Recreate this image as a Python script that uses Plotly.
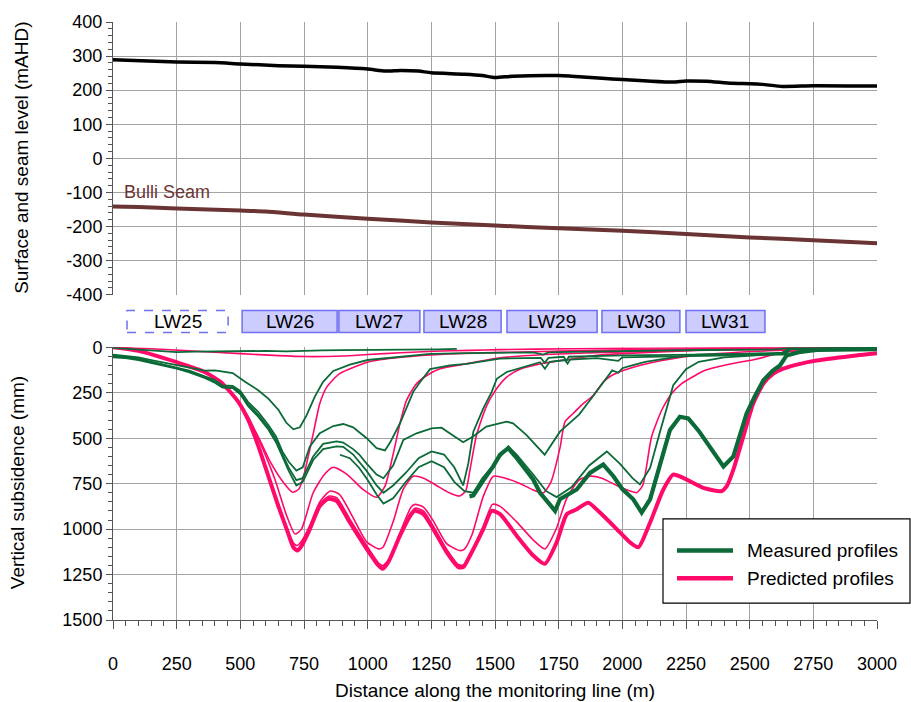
import plotly.graph_objects as go

# ---------------- DATA ----------------
# Top panel: surface and Bulli seam levels (mAHD)
surf_x = [0, 250, 400, 500, 650, 750, 880, 1000, 1070, 1130, 1200, 1250, 1380, 1450, 1500, 1570,
          1750, 1800, 1920, 2000, 2100, 2200, 2250, 2330, 2430, 2500, 2550, 2630, 2750, 3000]
surf_y = [289, 283, 281, 277, 272, 270, 267, 262, 256, 258, 256, 251, 247, 243, 237, 241,
          243, 241, 235, 231, 227, 224, 227, 226, 220, 219, 217, 211, 213, 212]
seam_x = [0, 100, 250, 500, 600, 750, 1000, 1250, 1500, 1750, 2000, 2250, 2500, 2750, 3000]
seam_y = [-141, -143, -147, -153, -156, -165, -177, -188, -197, -205, -212, -222, -232, -240, -249]

# Longwall panels
lw_names = ["LW25", "LW26", "LW27", "LW28", "LW29", "LW30", "LW31"]
lw_start = [55, 507, 887, 1221, 1547, 1920, 2250]
lw_end = [452, 880, 1205, 1524, 1901, 2226, 2560]

# Legend entries
legend_names = ["Measured profiles", "Predicted profiles"]

# Predicted subsidence profiles (mm)
p25_x = [0, 150, 300, 500, 650, 760, 900, 1000, 1130, 1260, 1400, 1520, 1800, 2200, 3000]
p25_y = [0, 8, 20, 35, 46, 51, 48, 40, 30, 22, 17, 13, 8, 4, 0]

p26_x = [0, 100, 250, 360, 430, 490, 520, 570, 620, 670, 705, 730, 750, 770, 790, 812, 840, 890,
         1000, 1130, 1320, 1560, 1800, 2100, 2500, 3000]
p26_y = [0, 20, 82, 136, 205, 300, 364, 491, 636, 745, 797, 780, 700, 580, 450, 309, 218, 145,
         82, 55, 36, 27, 20, 12, 6, 2]

p27_x = [0, 100, 250, 360, 430, 492, 531, 584, 636, 682, 715, 740, 786, 830, 865, 920, 980, 1035,
         1068, 1101, 1127, 1153, 1192, 1232, 1284, 1388, 1520, 1700, 2000, 2500, 3000]
p27_y = [0, 20, 82, 136, 200, 300, 382, 545, 727, 927, 1027, 1000, 800, 700, 660, 700, 780, 825,
         764, 582, 418, 291, 200, 155, 118, 91, 58, 40, 25, 10, 3]

p28_x = [0, 100, 250, 360, 430, 492, 531, 571, 610, 649, 682, 708, 722, 741, 773, 812, 853, 890,
         940, 996, 1043, 1060, 1100, 1140, 1179, 1220, 1270, 1320, 1362, 1385, 1402, 1428, 1467,
         1500, 1546, 1600, 1690, 1800, 1893, 2000, 2286, 2600, 3000]
p28_y = [0, 20, 82, 136, 200, 300, 395, 540, 700, 860, 990, 1075, 1090, 1065, 980, 850, 791, 810,
         930, 1070, 1109, 1100, 960, 780, 709, 720, 760, 800, 818, 790, 673, 480, 322,
         240, 164, 120, 88, 65, 45, 35, 18, 10, 3]

p29_x = [0, 100, 250, 360, 430, 492, 531, 571, 610, 649, 682, 708, 722, 741, 773, 812, 850, 880,
         930, 996, 1045, 1060, 1085, 1127, 1170, 1186, 1220, 1260, 1310, 1362, 1380, 1410, 1454,
         1494, 1540, 1600, 1650, 1690, 1720, 1755, 1775, 1807, 1840, 1886, 1925, 1958, 2024,
         2155, 2286, 2600, 3000]
p29_y = [0, 20, 82, 136, 200, 300, 398, 543, 705, 868, 995, 1095, 1112, 1085, 995, 862, 818, 830,
         945, 1090, 1190, 1200, 1165, 1020, 880, 864, 880, 960, 1080, 1118, 1110, 1030, 820,
         709, 720, 750, 785, 800, 740, 555, 409, 364, 318, 264, 191, 155, 118,
         73, 45, 18, 4]

p30_x = [0, 100, 250, 360, 430, 492, 531, 571, 610, 649, 682, 708, 725, 741, 773, 812, 845, 878,
         930, 996, 1042, 1059, 1081, 1127, 1167, 1186, 1219, 1258, 1310, 1356, 1376, 1402, 1454,
         1490, 1520, 1585, 1650, 1696, 1740, 1782, 1830, 1873, 1920, 1978, 2030, 2056, 2080,
         2115, 2155, 2194, 2233, 2286, 2325, 2397, 2528, 2634, 2800, 3000]
p30_y = [0, 20, 82, 136, 200, 300, 400, 545, 709, 873, 1000, 1100, 1116, 1089, 998, 871, 830, 842,
         960, 1105, 1196, 1212, 1176, 1030, 915, 885, 900, 985, 1110, 1195, 1198, 1140, 985,
         864, 875, 960, 1060, 1109, 1000, 830, 730, 709, 720, 760, 790, 800, 760,
         491, 345, 254, 200, 155, 127, 100, 64, 27, 12, 3]

p31_x = [0, 100, 250, 360, 430, 492, 531, 571, 610, 649, 682, 708, 725, 741, 773, 812, 845, 878,
         930, 996, 1042, 1059, 1081, 1127, 1167, 1186, 1219, 1258, 1310, 1356, 1376, 1402, 1454,
         1487, 1520, 1585, 1650, 1696, 1742, 1782, 1821, 1866, 1912, 1978, 2030, 2063, 2109,
         2161, 2200, 2239, 2318, 2390, 2410, 2436, 2475, 2514, 2554, 2593, 2632, 2698, 2763,
         2894, 3000]
p31_y = [0, 20, 82, 136, 200, 300, 400, 545, 709, 873, 1000, 1100, 1118, 1091, 1000, 873, 833, 845,
         964, 1109, 1200, 1218, 1182, 1036, 927, 900, 918, 1000, 1127, 1209, 1209, 1145, 1000,
         900, 918, 1036, 1145, 1191, 1073, 918, 891, 855, 909, 1000, 1073, 1100, 964,
         782, 700, 718, 773, 791, 764, 673, 491, 309, 200, 145, 118, 91, 73,
         49, 33]

# Measured subsidence profiles (mm)
m25_x = [0, 60, 120, 180, 250, 320, 400, 470, 540, 600, 680, 750, 820, 900, 980, 1050, 1130,
         1200, 1280, 1350]
m25_y = [3, 8, 14, 20, 27, 24, 22, 20, 18, 20, 22, 18, 17, 16, 15, 13, 16, 13, 11, 9]

m26_x = [0, 50, 100, 150, 200, 250, 300, 360, 400, 440, 470, 520, 570, 610, 650, 680, 708, 734,
         760, 793, 825, 865, 930, 1000, 1130, 1245, 1400, 1500, 1650, 1690, 1710, 1800, 2000,
         2300, 2600, 2650, 3000]
m26_y = [40, 46, 56, 70, 84, 100, 115, 128, 127, 135, 142, 191, 236, 282, 345, 414, 451, 440,
         375, 270, 190, 130, 95, 70, 50, 36, 32, 30, 28, 40, 28, 25, 20,
         15, 12, 5, 3]

m27_x = [0, 50, 100, 150, 200, 250, 300, 360, 400, 430, 470, 500, 530, 570, 610, 640, 665, 690,
         720, 745, 773, 812, 865, 904, 943, 996, 1035, 1068, 1088, 1127, 1153, 1179, 1206, 1245,
         1323, 1388, 1519, 1600, 1680, 1695, 1710, 1770, 1780, 1790, 1900, 2000, 2200, 2500,
         2640, 2660, 2800, 3000]
m27_y = [48, 54, 64, 80, 95, 110, 128, 160, 180, 210, 212, 240, 300, 355, 427, 491, 573, 630,
         678, 660, 545, 473, 433, 422, 440, 500, 555, 567, 524, 418, 336, 245, 191, 120,
         100, 91, 62, 58, 58, 85, 58, 52, 75, 52, 48, 45, 42, 38,
         35, 10, 8, 5]

m28_x = [0, 50, 100, 150, 200, 250, 300, 360, 400, 430, 470, 500, 530, 570, 610, 640, 665, 690,
         720, 745, 786, 825, 878, 904, 943, 996, 1035, 1062, 1100, 1150, 1200, 1251, 1300, 1340,
         1375, 1395, 1415, 1454, 1487, 1507, 1546, 1611, 1677, 1696, 1715, 1775, 1785, 1795,
         1900, 1984, 2000, 2200, 2500, 2640, 2660, 2800, 3000]
m28_y = [55, 60, 70, 86, 100, 118, 138, 168, 195, 222, 224, 258, 322, 382, 452, 522, 600, 680,
         760, 740, 620, 560, 545, 548, 590, 680, 760, 800, 760, 690, 610, 573, 590, 660,
         760, 640, 464, 336, 245, 173, 136, 109, 82, 118, 80, 70, 90, 68,
         60, 75, 55, 50, 45, 40, 10, 8, 5]

m29_x = [0, 50, 100, 150, 200, 250, 300, 360, 400, 430, 470, 500, 530, 570, 610, 640, 665, 690,
         720, 745, 786, 825, 878, 904, 943, 967, 996, 1035, 1062, 1100, 1140, 1192, 1251, 1290,
         1322, 1375, 1414, 1466, 1545, 1571, 1623, 1695, 1755, 1830, 1890, 1935, 1960, 1984,
         2000, 2024, 2090, 2200, 2290, 2500, 2640, 2660, 2800, 3000]
m29_y = [45, 52, 63, 80, 96, 114, 134, 164, 190, 218, 219, 250, 312, 370, 442, 508, 588, 662,
         731, 720, 600, 531, 518, 524, 560, 590, 640, 700, 720, 650, 509, 473, 446, 442,
         473, 522, 491, 436, 409, 418, 482, 591, 464, 370, 260, 170, 127, 140,
         115, 105, 80, 55, 40, 35, 30, 10, 8, 5]

m30_x = [891, 930, 967, 1000, 1035, 1062, 1100, 1150, 1200, 1251, 1300, 1340, 1380, 1415, 1450,
         1493, 1552, 1585, 1650, 1700, 1742, 1800, 1870, 1939, 1990, 2040, 2069, 2109, 2148,
         2200, 2250, 2300, 2400, 2500, 2620, 2650, 2800, 3000]
m30_y = [591, 610, 664, 730, 810, 860, 830, 740, 660, 627, 660, 740, 791, 800, 720,
         650, 545, 590, 700, 790, 824, 770, 650, 573, 640, 720, 754, 664, 464,
         209, 120, 80, 55, 45, 36, 12, 8, 5]

m31_x = [1400, 1415, 1450, 1493, 1520, 1552, 1585, 1620, 1650, 1677, 1710, 1736, 1755, 1790,
         1821, 1873, 1925, 1965, 2000, 2043, 2076, 2109, 2148, 2187, 2226, 2259, 2300, 2344,
         2397, 2436, 2488, 2520, 2554, 2590, 2619, 2645, 2700, 2763, 2900, 3000]
m31_y = [820, 815, 740, 655, 590, 555, 609, 670, 727, 800, 860, 900, 836, 810,
         782, 691, 645, 709, 780, 836, 909, 836, 636, 455, 382, 391, 460, 545,
         655, 600, 364, 270, 182, 130, 100, 45, 25, 15, 12, 10]

# ---------------- STYLE ----------------
GREEN = "#0b6a37"
PINK = "#ff0a6a"
BROWN = "#6b3434"
GRID = "#a3a3a3"
AXIS = "#555555"
FONT = "Liberation Sans, Arial, sans-serif"

# plot area in pixels (for paper-coordinate conversions)
PL, PR, PT, PB = 113, 877, 17, 620
W, H = 911, 702


def paper_x(px):
    return (px - PL) / (PR - PL)


def paper_y(py):
    return (PB - py) / (PB - PT)


fig = go.Figure()


def add_line(x, y, color, width, xa="x", ya="y", shape="linear"):
    line = dict(color=color, width=width, shape=shape)
    if shape == "spline":
        line["smoothing"] = 0.6
    fig.add_trace(go.Scatter(x=x, y=y, mode="lines", line=line, xaxis=xa, yaxis=ya,
                             showlegend=False, hoverinfo="skip"))


# Top panel
add_line(surf_x, surf_y, "black", 3.5, "x2", "y2", "spline")
add_line(seam_x, seam_y, BROWN, 4, "x2", "y2", "spline")

# Predicted profiles (thin), then final thick
for px_, py_ in [(p25_x, p25_y), (p26_x, p26_y), (p27_x, p27_y), (p28_x, p28_y),
                 (p29_x, p29_y), (p30_x, p30_y)]:
    add_line(px_, py_, PINK, 1.6, shape="spline")
add_line(p31_x, p31_y, PINK, 4, shape="spline")

# Measured profiles
for mx_, my_ in [(m25_x, m25_y), (m26_x, m26_y), (m27_x, m27_y), (m28_x, m28_y),
                 (m29_x, m29_y), (m30_x, m30_y)]:
    add_line(mx_, my_, GREEN, 1.8)
add_line(m31_x, m31_y, GREEN, 4.2)

shapes = []
annotations = []

# Longwall panel boxes
for name, s, e in zip(lw_names, lw_start, lw_end):
    dashed = name == "LW25"
    shapes.append(dict(type="rect", xref="x", yref="paper", x0=s, x1=e,
                       y0=paper_y(330), y1=paper_y(308),
                       fillcolor="white" if dashed else "#ccccff",
                       line=dict(color="#6f6ff0", width=1.5, dash="dash" if dashed else "solid"),
                       layer="above"))
    annotations.append(dict(x=(s + e) / 2, y=paper_y(319), xref="x", yref="paper", text=name,
                            showarrow=False, xanchor="center", yanchor="middle",
                            font=dict(size=19, color="black", family=FONT)))

# Legend (box, line samples and labels)
shapes.append(dict(type="rect", xref="paper", yref="paper", x0=paper_x(663), x1=paper_x(910),
                   y0=paper_y(603), y1=paper_y(518), fillcolor="white",
                   line=dict(color="black", width=1.2), layer="above"))
for name, color, py in zip(legend_names, [GREEN, PINK], [550, 578]):
    shapes.append(dict(type="line", xref="paper", yref="paper", x0=paper_x(677), x1=paper_x(733),
                       y0=paper_y(py), y1=paper_y(py), line=dict(color=color, width=4.5),
                       layer="above"))
    annotations.append(dict(x=paper_x(745), y=paper_y(py), xref="paper", yref="paper",
                            text=name, showarrow=False, xanchor="left", yanchor="middle",
                            font=dict(size=19, color="black", family=FONT)))

annotations.append(dict(x=35, y=-98, xref="x2", yref="y2", text="Bulli Seam", showarrow=False,
                        xanchor="left", yanchor="middle",
                        font=dict(size=18, color=BROWN, family=FONT)))
annotations.append(dict(x=0, y=paper_y(154), xref="paper", yref="paper", xshift=22 - PL,
                        xanchor="center", yanchor="middle",
                        text="Surface and seam level (mAHD)", textangle=-90, showarrow=False,
                        font=dict(size=19, color="black", family=FONT)))
annotations.append(dict(x=0, y=paper_y(482), xref="paper", yref="paper", xshift=17 - PL,
                        xanchor="center", yanchor="middle",
                        text="Vertical subsidence (mm)", textangle=-90, showarrow=False,
                        font=dict(size=19, color="black", family=FONT)))
annotations.append(dict(x=paper_x(495), y=0, xref="paper", yref="paper", yshift=-(690 - PB),
                        xanchor="center", yanchor="middle",
                        text="Distance along the monitoring line (m)", showarrow=False,
                        font=dict(size=19, color="black", family=FONT)))

top_ticks = list(range(-400, 401, 100))
TICKFONT = dict(size=18, family=FONT, color="black")

fig.update_layout(
    width=W, height=H,
    margin=dict(l=PL, r=W - PR, t=PT, b=H - PB),
    paper_bgcolor="white", plot_bgcolor="white",
    font=dict(family=FONT, size=18, color="black"),
    showlegend=False,
    xaxis=dict(domain=[0, 1], anchor="y", range=[0, 3000], tickmode="array",
               tickvals=list(range(0, 3001, 250)), showgrid=True, gridcolor=GRID, gridwidth=1,
               ticks="outside", ticklen=8, tickcolor=AXIS, showline=True, linecolor=AXIS,
               linewidth=1, zeroline=False, ticklabelstandoff=19, tickfont=TICKFONT,
               minor=dict(dtick=50, ticks="outside", ticklen=5, tickcolor=AXIS, showgrid=False)),
    yaxis=dict(domain=[0, paper_y(345)], anchor="x", range=[1500, 0], tickmode="array",
               tickvals=list(range(0, 1501, 250)), showgrid=True, gridcolor=GRID, gridwidth=1,
               ticks="outside", ticklen=6, tickcolor=AXIS, showline=True, linecolor=AXIS,
               linewidth=1, zeroline=False, tickfont=TICKFONT,
               minor=dict(dtick=50, ticks="outside", ticklen=4, tickcolor=AXIS, showgrid=False)),
    xaxis2=dict(domain=[0, 1], anchor="y2", range=[0, 3000], matches="x", tickmode="array",
                tickvals=list(range(0, 3001, 250)), showgrid=True, gridcolor=GRID, gridwidth=1,
                showticklabels=False, ticks="", showline=False, zeroline=False),
    yaxis2=dict(domain=[paper_y(292), 1], anchor="x2", range=[-400, 400], tickmode="array",
                tickvals=top_ticks, ticktext=[str(v) for v in top_ticks],
                showgrid=True, gridcolor=GRID, gridwidth=1, ticks="outside", ticklen=6,
                tickcolor=AXIS, showline=True, linecolor=AXIS, linewidth=1, zeroline=False,
                tickfont=TICKFONT,
                minor=dict(dtick=20, ticks="outside", ticklen=4, tickcolor=AXIS, showgrid=False)),
    shapes=shapes,
    annotations=annotations,
)

fig.write_html("out.html")
